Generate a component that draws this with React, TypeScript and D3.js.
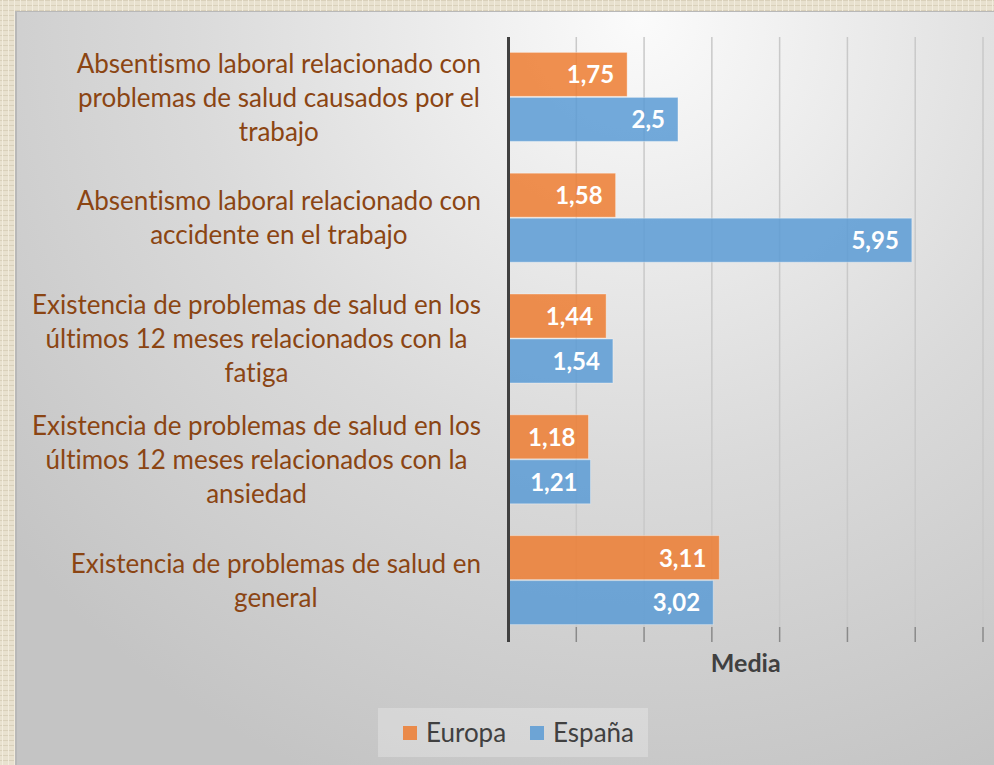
import React, { useEffect, useRef } from "react";
import * as d3 from "d3";

const categories: string[][] = [
  ["Absentismo laboral relacionado con", "problemas de salud causados por el", "trabajo"],
  ["Absentismo laboral relacionado con", "accidente en el trabajo"],
  ["Existencia de problemas de salud en los", "últimos 12 meses relacionados con la", "fatiga"],
  ["Existencia de problemas de salud en los", "últimos 12 meses relacionados con la", "ansiedad"],
  ["Existencia de problemas de salud en", "general"],
];
const seriesNames = ["Europa", "España"];
const europa = [1.75, 1.58, 1.44, 1.18, 3.11];
const espana = [2.5, 5.95, 1.54, 1.21, 3.02];
const xTicks = [0, 1, 2, 3, 4, 5, 6, 7];
const axisTitle = "Media";

const W = 994;
const H = 765;
const FONT = "Lato, 'Open Sans', sans-serif";
const colors = ["#ED7D31", "#5B9BD5"];

export default function App() {
  const ref = useRef<SVGSVGElement | null>(null);

  useEffect(() => {
    const svg = d3.select(ref.current);
    svg.selectAll("*").remove();

    const defs = svg.append("defs");
    const rg = defs
      .append("radialGradient")
      .attr("id", "bg")
      .attr("gradientUnits", "userSpaceOnUse")
      .attr("cx", 640)
      .attr("cy", 20)
      .attr("r", 820);
    rg.append("stop").attr("offset", "0").attr("stop-color", "#fbfbfb");
    rg.append("stop").attr("offset", "0.55").attr("stop-color", "#dadada");
    rg.append("stop").attr("offset", "1").attr("stop-color", "#c4c4c4");

    const pat = defs
      .append("pattern")
      .attr("id", "tex")
      .attr("patternUnits", "userSpaceOnUse")
      .attr("width", 6)
      .attr("height", 5);
    pat.append("rect").attr("width", 6).attr("height", 5).attr("fill", "#e8e1cf");
    pat.append("rect").attr("width", 6).attr("height", 1).attr("fill", "#d9d0ba");
    pat.append("rect").attr("x", 2).attr("width", 1).attr("height", 5).attr("fill", "#f2ecdd");

    // textured frame
    svg.append("rect").attr("width", W).attr("height", H).attr("fill", "url(#tex)");
    // panel
    svg.append("rect").attr("x", 15).attr("y", 11).attr("width", W - 15).attr("height", H - 11).attr("fill", "#b8b8b8");
    svg.append("rect").attr("x", 17).attr("y", 12).attr("width", W - 17).attr("height", H - 12).attr("fill", "url(#bg)");

    const x = d3.scaleLinear().domain([0, 7]).range([508.5, 983]);
    const y = d3
      .scaleBand<number>()
      .domain(d3.range(categories.length))
      .range([37, 641])
      .paddingInner(0.255)
      .paddingOuter(0.1275);
    const ys = d3.scaleBand<number>().domain([0, 1]).range([0, y.bandwidth()]);

    const g = svg.append("g").style("font-variant-ligatures", "none");

    // gridlines
    g.selectAll("line.grid")
      .data(xTicks.slice(1))
      .join("line")
      .attr("x1", (d) => x(d))
      .attr("x2", (d) => x(d))
      .attr("y1", 37)
      .attr("y2", 627)
      .attr("stroke", "#c9c9c9")
      .attr("stroke-width", 1.5);
    g.selectAll("line.tick")
      .data(xTicks.slice(1))
      .join("line")
      .attr("x1", (d) => x(d))
      .attr("x2", (d) => x(d))
      .attr("y1", 627)
      .attr("y2", 642)
      .attr("stroke", "#8a8a8a")
      .attr("stroke-width", 1.5);

    const series = [europa, espana];
    series.forEach((vals, si) => {
      const bars = g.append("g");
      bars
        .selectAll("rect")
        .data(vals)
        .join("rect")
        .attr("x", x(0))
        .attr("y", (_, i) => (y(i) as number) + (ys(si) as number))
        .attr("width", (d) => x(d) - x(0))
        .attr("height", ys.bandwidth() - 1)
        .attr("fill", colors[si])
        .attr("fill-opacity", 0.85)
        .attr("stroke", "#ffffff")
        .attr("stroke-opacity", 0.35)
        .attr("stroke-width", 1);
      bars
        .selectAll("text")
        .data(vals)
        .join("text")
        .attr("x", (d) => x(d) - 13)
        .attr("y", (_, i) => (y(i) as number) + (ys(si) as number) + ys.bandwidth() / 2)
        .attr("dy", "0.35em")
        .attr("text-anchor", "end")
        .attr("fill", "#ffffff")
        .attr("font-family", FONT)
        .attr("font-weight", 700)
        .attr("font-size", 24)
        .text((d) => d3.format(".2~f")(d).replace(".", ","));
    });

    // zero axis line
    g.append("line")
      .attr("x1", x(0))
      .attr("x2", x(0))
      .attr("y1", 37)
      .attr("y2", 642)
      .attr("stroke", "#404040")
      .attr("stroke-width", 3);

    // category labels
    const lineH = 34;
    const rightEdge = 481;
    categories.forEach((lines, i) => {
      const cy = (y(i) as number) + y.bandwidth() / 2;
      const t = g
        .append("text")
        .attr("font-family", FONT)
        .attr("font-size", 26)
        .attr("fill", "#8B4513")
        .attr("text-anchor", "middle");
      const tspans = lines.map((ln, k) =>
        t
          .append("tspan")
          .attr("y", cy + (k - (lines.length - 1) / 2) * lineH)
          .attr("dy", "0.35em")
          .text(ln)
      );
      let maxW = 0;
      tspans.forEach((ts) => {
        const n = ts.node() as SVGTSpanElement;
        maxW = Math.max(maxW, n.getComputedTextLength());
      });
      tspans.forEach((ts) => ts.attr("x", rightEdge - maxW / 2));
    });

    // axis title
    g.append("text")
      .attr("x", (x(0) + x(7)) / 2)
      .attr("y", 663)
      .attr("dy", "0.35em")
      .attr("text-anchor", "middle")
      .attr("font-family", FONT)
      .attr("font-weight", 700)
      .attr("font-size", 25)
      .attr("fill", "#404040")
      .text(axisTitle);

    // legend
    const lg = g.append("g");
    lg.append("rect")
      .attr("x", 378)
      .attr("y", 708)
      .attr("width", 270)
      .attr("height", 49)
      .attr("fill", "#ffffff")
      .attr("fill-opacity", 0.25);
    const legendX = [403, 530];
    seriesNames.forEach((name, i) => {
      lg.append("rect")
        .attr("x", legendX[i])
        .attr("y", 726)
        .attr("width", 14)
        .attr("height", 14)
        .attr("fill", colors[i])
        .attr("fill-opacity", 0.85);
      lg.append("text")
        .attr("x", legendX[i] + 23)
        .attr("y", 733)
        .attr("dy", "0.35em")
        .attr("font-family", FONT)
        .attr("font-size", 26)
        .attr("fill", "#404040")
        .text(name);
    });
  }, []);

  return (
    <svg
      ref={ref}
      width={W}
      height={H}
      style={{ position: "absolute", left: 0, top: 0, display: "block" }}
    />
  );
}
